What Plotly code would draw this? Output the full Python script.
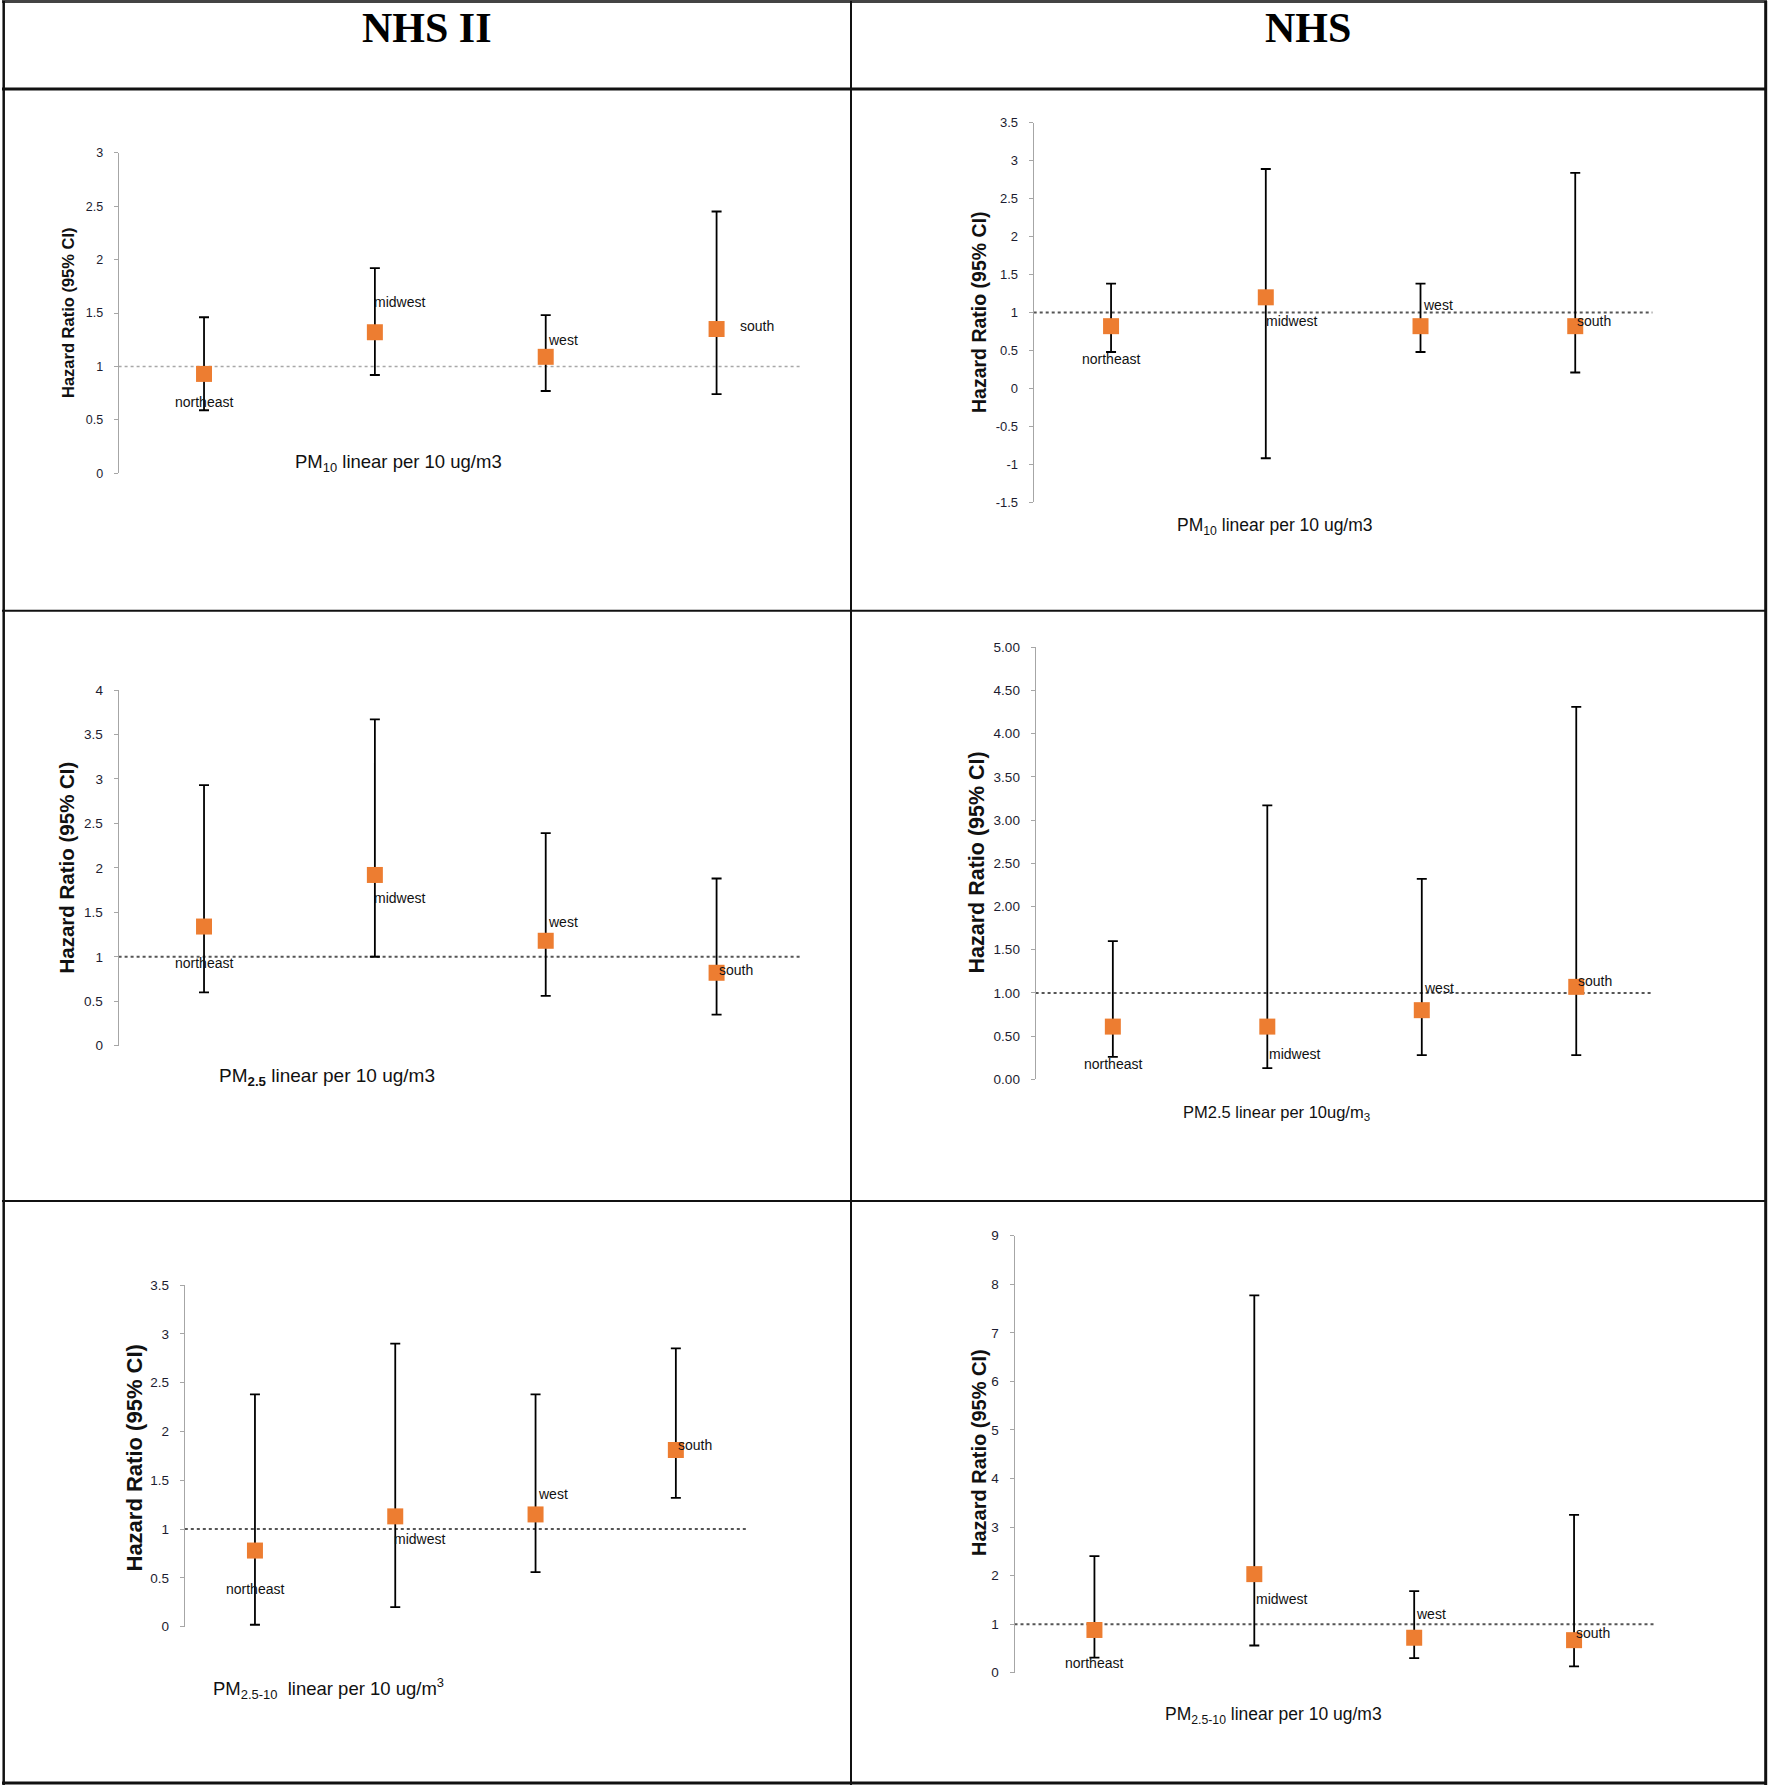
import plotly.graph_objects as go

W, H = 1768, 1789

# ---------------- data ----------------
regions = ["northeast", "midwest", "west", "south"]
cat_pos = [1, 2, 3, 4]

# NHS II, PM10
nhs2_pm10_hr = [0.93, 1.32, 1.09, 1.35]
nhs2_pm10_lo = [0.59, 0.92, 0.77, 0.74]
nhs2_pm10_hi = [1.46, 1.92, 1.48, 2.45]
# NHS, PM10
nhs_pm10_hr = [0.82, 1.20, 0.82, 0.82]
nhs_pm10_lo = [0.48, -0.92, 0.48, 0.21]
nhs_pm10_hi = [1.38, 2.89, 1.38, 2.84]
# NHS II, PM2.5
nhs2_pm25_hr = [1.34, 1.92, 1.18, 0.82]
nhs2_pm25_lo = [0.60, 1.00, 0.56, 0.35]
nhs2_pm25_hi = [2.93, 3.67, 2.39, 1.88]
# NHS, PM2.5
nhs_pm25_hr = [0.61, 0.61, 0.80, 1.07]
nhs_pm25_lo = [0.26, 0.13, 0.28, 0.28]
nhs_pm25_hi = [1.60, 3.17, 2.32, 4.31]
# NHS II, PM2.5-10
nhs2_pmc_hr = [0.78, 1.13, 1.15, 1.81]
nhs2_pmc_lo = [0.02, 0.20, 0.56, 1.32]
nhs2_pmc_hi = [2.38, 2.90, 2.38, 2.85]
# NHS, PM2.5-10
nhs_pmc_hr = [0.88, 2.03, 0.72, 0.67]
nhs_pmc_lo = [0.31, 0.56, 0.30, 0.13]
nhs_pmc_hi = [2.40, 7.77, 1.68, 3.25]

# tick values / labels
ticks_p1 = [0, 0.5, 1, 1.5, 2, 2.5, 3]
ticks_p2 = [-1.5, -1, -0.5, 0, 0.5, 1, 1.5, 2, 2.5, 3, 3.5]
ticks_p3 = [0, 0.5, 1, 1.5, 2, 2.5, 3, 3.5, 4]
ticks_p4 = [0, 0.5, 1, 1.5, 2, 2.5, 3, 3.5, 4, 4.5, 5]
ticks_p5 = [0, 0.5, 1, 1.5, 2, 2.5, 3, 3.5]
ticks_p6 = [0, 1, 2, 3, 4, 5, 6, 7, 8, 9]
ticktext_p1 = ["0", "0.5", "1", "1.5", "2", "2.5", "3"]
ticktext_p2 = ["-1.5", "-1", "-0.5", "0", "0.5", "1", "1.5", "2", "2.5", "3", "3.5"]
ticktext_p3 = ["0", "0.5", "1", "1.5", "2", "2.5", "3", "3.5", "4"]
ticktext_p4 = ["0.00", "0.50", "1.00", "1.50", "2.00", "2.50", "3.00", "3.50", "4.00", "4.50", "5.00"]
ticktext_p5 = ["0", "0.5", "1", "1.5", "2", "2.5", "3", "3.5"]
ticktext_p6 = ["0", "1", "2", "3", "4", "5", "6", "7", "8", "9"]

column_titles = ["NHS II", "NHS"]
y_title = "Hazard Ratio (95% CI)"
x_titles = [
    "PM<sub>10</sub> linear per 10 ug/m3",
    "PM<sub>10</sub> linear per 10 ug/m3",
    "PM<sub><b>2.5</b></sub> linear per 10 ug/m3",
    "PM2.5 linear per 10ug/m<sub>3</sub>",
    "PM<sub>2.5-10</sub>  linear per 10 ug/m<sup>3</sup>",
    "PM<sub>2.5-10</sub> linear per 10 ug/m3",
]
reference_hr = 1

panels = [
    (nhs2_pm10_hr, nhs2_pm10_lo, nhs2_pm10_hi, ticks_p1, ticktext_p1),
    (nhs_pm10_hr, nhs_pm10_lo, nhs_pm10_hi, ticks_p2, ticktext_p2),
    (nhs2_pm25_hr, nhs2_pm25_lo, nhs2_pm25_hi, ticks_p3, ticktext_p3),
    (nhs_pm25_hr, nhs_pm25_lo, nhs_pm25_hi, ticks_p4, ticktext_p4),
    (nhs2_pmc_hr, nhs2_pmc_lo, nhs2_pmc_hi, ticks_p5, ticktext_p5),
    (nhs_pmc_hr, nhs_pmc_lo, nhs_pmc_hi, ticks_p6, ticktext_p6),
]

# ---------------- layout / style ----------------
# plot boxes in pixels: x_left, x_right, y_top, y_bottom
boxes = [
    (118.6, 802.0, 152.7, 473.3),
    (1033.7, 1652.6, 122.7, 502.3),
    (118.6, 802.0, 690.0, 1045.7),
    (1035.6, 1653.5, 647.3, 1079.3),
    (184.8, 746.0, 1285.0, 1626.7),
    (1014.5, 1654.0, 1235.7, 1672.7),
]
# label offsets (xanchor, dx px, dy px down) per panel, per region
label_offsets = [
    [("center", 0, 28), ("left", -3, -30), ("left", 0, -17), ("left", 21, -3)],
    [("center", 0, 33), ("left", -2, 24), ("left", 0, -21), ("left", 0, -5)],
    [("center", 0, 36), ("left", -3, 23), ("left", 0, -19), ("left", 0, -3)],
    [("center", 0, 37), ("left", 0, 27), ("left", 0, -22), ("left", 0, -6)],
    [("center", 0, 38), ("left", -3, 23), ("left", 0, -20), ("left", 0, -5)],
    [("center", 0, 33), ("left", 0, 25), ("left", 0, -24), ("left", 0, -7)],
]
ytitle_pos = [(68, 313, 16.5), (979, 312, 19.5), (65.5, 868, 20.5), (976.5, 863, 21.5), (133.5, 1458, 22), (979, 1453, 20)]
tick_sizes = [12.5, 13, 13.5, 13.5, 13.5, 13.5]
SANS = "Liberation Sans, Arial, sans-serif"
xtitle_pos = [
    (398, 463, 18.5),
    (1275, 527, 17.5),
    (327, 1077, 19),
    (1276, 1113, 16.5),
    (328, 1688, 18.5),
    (1273, 1715, 17.5),
]
ref_line_style = [("#a8a8a8", 1.5), ("#555555", 2), ("#555555", 2), ("#555555", 2), ("#555555", 2), ("#555555", 2)]

ORANGE = "#ED7D31"

def px(x):
    return x / W

def py(y):
    return 1 - y / H

fig = go.Figure()
layout = dict(
    width=W, height=H, autosize=False,
    margin=dict(l=0, r=0, t=0, b=0, pad=0, autoexpand=False),
    paper_bgcolor="white", plot_bgcolor="white",
    showlegend=False,
)
annotations = []
shapes = []

for i, (hr, lo, hi, tv, tt) in enumerate(panels):
    n = i + 1
    xa = "x" if n == 1 else f"x{n}"
    ya = "y" if n == 1 else f"y{n}"
    xl, xr, yt, yb = boxes[i]
    err_plus = [h - v for h, v in zip(hi, hr)]
    err_minus = [v - l for v, l in zip(hr, lo)]
    fig.add_trace(go.Scatter(
        x=cat_pos, y=hr, xaxis=xa, yaxis=ya, mode="markers",
        marker=dict(symbol="square", size=16, color=ORANGE, line=dict(width=0)),
        error_y=dict(type="data", symmetric=False, array=err_plus, arrayminus=err_minus,
                     color="black", thickness=1.8, width=5),
        cliponaxis=False, hoverinfo="skip",
    ))
    layout[f"xaxis{n}" if n > 1 else "xaxis"] = dict(
        domain=[px(xl), px(xr)], range=[0.5, 4.5], anchor=ya, automargin=False,
        visible=False, showgrid=False, zeroline=False, fixedrange=True,
    )
    layout[f"yaxis{n}" if n > 1 else "yaxis"] = dict(
        domain=[py(yb), py(yt)], range=[tv[0], tv[-1]], anchor=xa, automargin=False,
        showline=True, linecolor="#a6a6a6", linewidth=1,
        ticks="outside", ticklen=4, tickcolor="#a6a6a6", tickwidth=1,
        tickvals=tv, ticktext=tt, ticklabelstandoff=8,
        tickfont=dict(family=SANS, size=tick_sizes[i], color="#1c1c30"),
        showgrid=False, zeroline=False, fixedrange=True,
    )
    col, lw = ref_line_style[i]
    shapes.append(dict(type="line", xref=xa, yref=ya, x0=0.5, x1=4.5,
                       y0=reference_hr, y1=reference_hr,
                       line=dict(color=col, width=lw, dash="dot"), layer="below"))
    for j, name in enumerate(regions):
        anc, dx, dy = label_offsets[i][j]
        annotations.append(dict(
            x=cat_pos[j], y=hr[j], xref=xa, yref=ya, text=name, showarrow=False,
            xanchor=anc, yanchor="middle", xshift=dx, yshift=-dy,
            font=dict(family=SANS, size=14, color="#111111"),
        ))
    tx, ty, ts = ytitle_pos[i]
    annotations.append(dict(
        x=px(tx), y=py(ty), xref="paper", yref="paper", text=f"<b>{y_title}</b>",
        textangle=-90, showarrow=False, xanchor="center", yanchor="middle",
        font=dict(family=SANS, size=ts, color="#111111"),
    ))
    gx, gy, gs = xtitle_pos[i]
    annotations.append(dict(
        x=px(gx), y=py(gy), xref="paper", yref="paper", text=x_titles[i],
        showarrow=False, xanchor="center", yanchor="middle",
        font=dict(family=SANS, size=gs, color="#111111"),
    ))

# column headers
for title, cx in zip(column_titles, [427, 1308]):
    annotations.append(dict(
        x=px(cx), y=py(28), xref="paper", yref="paper", text=f"<b>{title}</b>",
        showarrow=False, xanchor="center", yanchor="middle",
        font=dict(family="Liberation Serif, Times New Roman, serif", size=42, color="black"),
    ))

# table borders
def hline(y, x0, x1, w, c="#111111"):
    shapes.append(dict(type="line", xref="paper", yref="paper", x0=px(x0), x1=px(x1),
                       y0=py(y), y1=py(y), line=dict(color=c, width=w)))

def vline(x, y0, y1, w, c="#111111"):
    shapes.append(dict(type="line", xref="paper", yref="paper", x0=px(x), x1=px(x),
                       y0=py(y0), y1=py(y1), line=dict(color=c, width=w)))

hline(1.5, 2, 1767, 3, "#444444")
hline(89, 2, 1767, 3)
hline(610.7, 2, 1767, 2)
hline(1201, 2, 1767, 2)
hline(1783, 2, 1767, 3)
vline(3.7, 1, 1785, 2.5)
vline(851, 1, 1785, 2)
vline(1765.7, 1, 1785, 3)

layout["annotations"] = annotations
layout["shapes"] = shapes
fig.update_layout(**layout)

post = ("document.documentElement.style.margin='0';document.body.style.margin='0';"
        "document.body.style.padding='0';document.body.style.overflow='hidden';"
        "var gd=document.getElementById('{plot_id}');gd.style.position='absolute';"
        "gd.style.left='0px';gd.style.top='0px';window.scrollTo(0,0);")
fig.write_html("out.html", include_plotlyjs=True,
               config={"displayModeBar": False}, post_script=post)
